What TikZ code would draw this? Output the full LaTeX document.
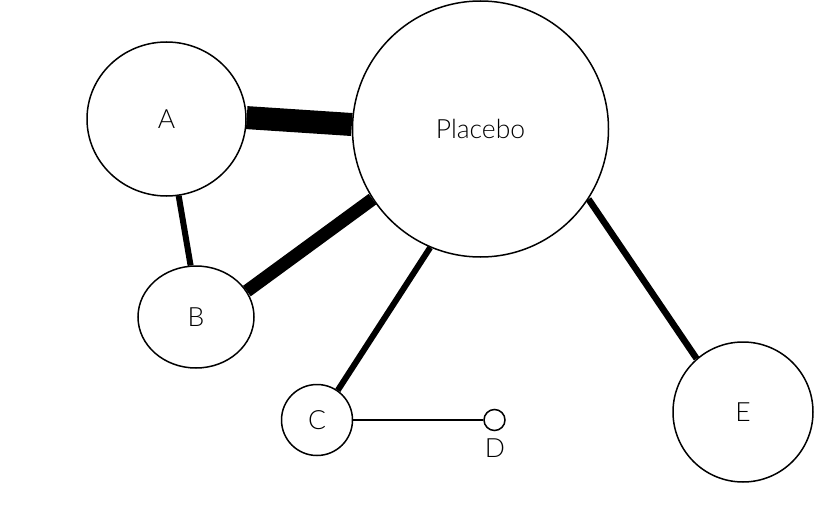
\documentclass[tikz,border=0pt]{standalone}
\usepackage{fontspec}
\setmainfont{Lato Light}
\usetikzlibrary{shapes.geometric,backgrounds}
\begin{document}
\begin{tikzpicture}[x=1pt,y=-1pt,
  lbl/.style={font=\fontsize{26.5}{31}\selectfont},
  nd/.style={draw=black,line width=1.5pt,fill=white,inner sep=0pt,lbl},
  circ/.style={nd,circle,minimum size=#1},
  ell/.style={nd,ellipse},
  edge/.style={draw=black,line width=#1,line cap=butt}]
\useasboundingbox (0,0) rectangle (815,527);
\node[circ=256pt] (P) at (480.5,129) {Placebo};
\node[ell,minimum width=159pt,minimum height=154pt] (A) at (166.5,119) {A};
\node[ell,minimum width=116pt,minimum height=102pt] (B) at (196,317) {B};
\node[circ=71pt] (C) at (317,420) {C};
\node[circ=21pt] (D) at (494.5,420) {};
\node[lbl] (Dl) at (495,448) {D};
\node[circ=140pt] (E) at (743,412) {E};
\begin{pgfonlayer}{background}
\draw[edge=23pt] (A.1) -- (P.178);
\draw[edge=13pt] (B.27) -- (P.213);
\draw[edge=6pt] (A.-81) -- (B.96);
\draw[edge=6pt] (P.247) -- (C.55);
\draw[edge=6.5pt] (P.-33) -- (E.131);
\draw[edge=1.5pt] (C.east) -- (D.west);
\end{pgfonlayer}
\end{tikzpicture}
\end{document}
